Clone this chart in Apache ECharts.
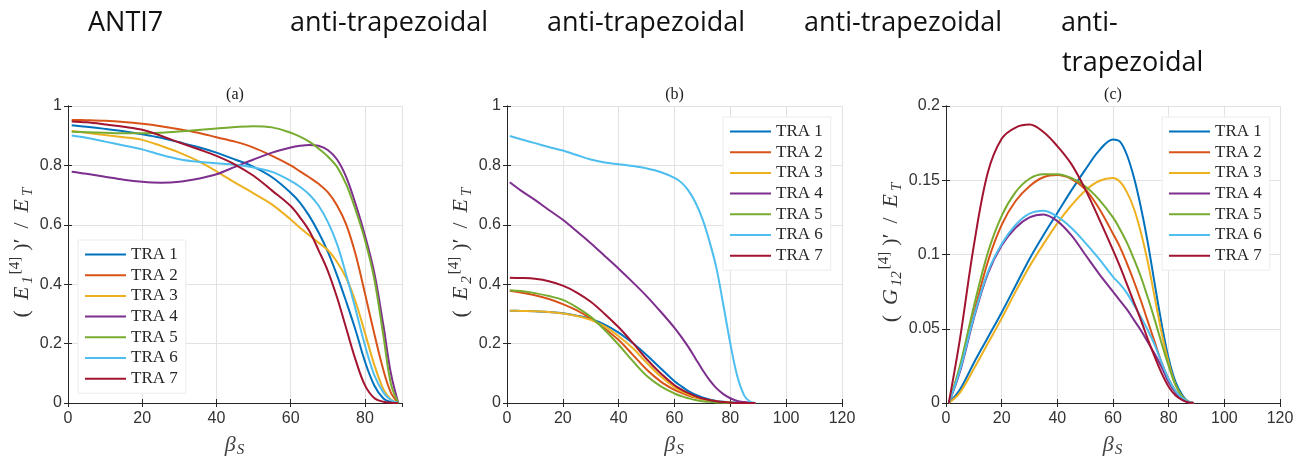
<!DOCTYPE html>
<html>
<head>
<meta charset="utf-8">
<script src="https://cdn.jsdelivr.net/npm/echarts@6/dist/echarts.min.js"></script>
<style>
html, body { margin: 0; padding: 0; background: #fff; }
#chart { width: 1309px; height: 459px; }
</style>
</head>
<body>
<div id="chart"></div>
<script>
// beta_S sample points (shared by all three panels)
const betaS = [1, 5, 10, 15, 20, 25, 30, 35, 40, 45, 50, 55, 60, 62.5, 65, 67.5, 70, 72.5, 75, 77.5, 80, 82.5, 85, 87, 89];

const traNames = ['TRA 1', 'TRA 2', 'TRA 3', 'TRA 4', 'TRA 5', 'TRA 6', 'TRA 7'];
const traColors = ['#0072BD', '#D95319', '#EDB120', '#7E2F8E', '#77AC30', '#4DBEEE', '#A2142F'];

// (a) E1
const e1Tra1 = [0.935, 0.930, 0.923, 0.915, 0.905, 0.893, 0.878, 0.862, 0.843, 0.820, 0.795, 0.760, 0.708, 0.675, 0.630, 0.575, 0.510, 0.430, 0.340, 0.245, 0.140, 0.060, 0.015, 0.003, 0];
const e1Tra2 = [0.953, 0.952, 0.950, 0.946, 0.940, 0.932, 0.922, 0.910, 0.895, 0.880, 0.860, 0.832, 0.800, 0.780, 0.760, 0.738, 0.710, 0.665, 0.600, 0.500, 0.370, 0.235, 0.110, 0.035, 0];
const e1Tra3 = [0.916, 0.910, 0.902, 0.895, 0.886, 0.866, 0.843, 0.815, 0.780, 0.742, 0.706, 0.668, 0.618, 0.590, 0.565, 0.540, 0.515, 0.475, 0.420, 0.340, 0.237, 0.130, 0.046, 0.012, 0];
const e1Tra4 = [0.779, 0.772, 0.762, 0.752, 0.745, 0.742, 0.745, 0.755, 0.770, 0.795, 0.820, 0.843, 0.860, 0.866, 0.869, 0.866, 0.852, 0.820, 0.760, 0.670, 0.565, 0.440, 0.260, 0.100, 0];
const e1Tra5 = [0.913, 0.912, 0.910, 0.908, 0.908, 0.910, 0.914, 0.919, 0.924, 0.929, 0.932, 0.928, 0.910, 0.897, 0.880, 0.857, 0.830, 0.795, 0.735, 0.650, 0.550, 0.420, 0.225, 0.065, 0];
const e1Tra6 = [0.901, 0.893, 0.880, 0.867, 0.854, 0.836, 0.821, 0.812, 0.807, 0.802, 0.793, 0.778, 0.748, 0.728, 0.702, 0.665, 0.610, 0.535, 0.430, 0.315, 0.195, 0.095, 0.035, 0.010, 0];
const e1Tra7 = [0.948, 0.945, 0.938, 0.930, 0.920, 0.900, 0.877, 0.855, 0.832, 0.803, 0.765, 0.715, 0.663, 0.625, 0.580, 0.515, 0.445, 0.355, 0.250, 0.145, 0.060, 0.017, 0.004, 0.001, 0];

// (b) E2
const e2Tra1 = [0.311, 0.310, 0.309, 0.306, 0.302, 0.294, 0.283, 0.264, 0.237, 0.202, 0.162, 0.117, 0.073, 0.056, 0.040, 0.028, 0.019, 0.012, 0.007, 0.004, 0.002, 0.001, 0, 0, 0];
const e2Tra2 = [0.378, 0.372, 0.363, 0.350, 0.333, 0.312, 0.285, 0.251, 0.212, 0.163, 0.113, 0.073, 0.044, 0.034, 0.025, 0.018, 0.013, 0.009, 0.005, 0.003, 0.001, 0, 0, 0, 0];
const e2Tra3 = [0.311, 0.310, 0.309, 0.306, 0.301, 0.293, 0.280, 0.258, 0.225, 0.185, 0.136, 0.090, 0.053, 0.040, 0.029, 0.020, 0.013, 0.009, 0.005, 0.003, 0.001, 0, 0, 0, 0];
const e2Tra4 = [0.743, 0.715, 0.684, 0.650, 0.617, 0.578, 0.538, 0.495, 0.452, 0.407, 0.360, 0.308, 0.253, 0.222, 0.188, 0.150, 0.112, 0.078, 0.050, 0.030, 0.016, 0.007, 0.003, 0.001, 0];
const e2Tra5 = [0.380, 0.377, 0.370, 0.360, 0.347, 0.322, 0.290, 0.246, 0.196, 0.142, 0.092, 0.057, 0.032, 0.023, 0.016, 0.010, 0.006, 0.004, 0.002, 0.001, 0, 0, 0, 0, 0];
const e2Tra6 = [0.899, 0.888, 0.875, 0.862, 0.850, 0.835, 0.820, 0.810, 0.804, 0.798, 0.790, 0.778, 0.758, 0.742, 0.715, 0.675, 0.620, 0.545, 0.455, 0.330, 0.200, 0.090, 0.025, 0.005, 0];
const e2Tra7 = [0.422, 0.421, 0.418, 0.410, 0.395, 0.372, 0.341, 0.300, 0.255, 0.203, 0.148, 0.100, 0.060, 0.045, 0.033, 0.023, 0.015, 0.010, 0.006, 0.003, 0.001, 0, 0, 0, 0];

// (c) G12
const g12Tra1 = [0, 0.009, 0.027, 0.044, 0.061, 0.079, 0.097, 0.113, 0.128, 0.143, 0.157, 0.170, 0.1775, 0.176, 0.167, 0.152, 0.132, 0.108, 0.080, 0.053, 0.030, 0.014, 0.005, 0.001, 0];
const g12Tra2 = [0, 0.023, 0.060, 0.095, 0.120, 0.136, 0.146, 0.152, 0.1535, 0.151, 0.144, 0.131, 0.114, 0.105, 0.094, 0.082, 0.069, 0.055, 0.041, 0.027, 0.016, 0.008, 0.003, 0.001, 0];
const g12Tra3 = [0, 0.007, 0.023, 0.040, 0.057, 0.075, 0.092, 0.107, 0.121, 0.133, 0.143, 0.1495, 0.1515, 0.149, 0.142, 0.131, 0.115, 0.095, 0.071, 0.047, 0.027, 0.012, 0.004, 0.001, 0];
const g12Tra4 = [0, 0.021, 0.057, 0.087, 0.106, 0.118, 0.125, 0.127, 0.1225, 0.113, 0.100, 0.087, 0.075, 0.069, 0.063, 0.056, 0.049, 0.041, 0.033, 0.024, 0.014, 0.007, 0.002, 0.0005, 0];
const g12Tra5 = [0, 0.025, 0.065, 0.101, 0.126, 0.142, 0.151, 0.154, 0.154, 0.1515, 0.146, 0.137, 0.125, 0.117, 0.108, 0.097, 0.085, 0.071, 0.056, 0.040, 0.025, 0.012, 0.004, 0.001, 0];
const g12Tra6 = [0, 0.022, 0.058, 0.088, 0.107, 0.120, 0.1275, 0.1295, 0.1255, 0.118, 0.108, 0.097, 0.085, 0.080, 0.074, 0.066, 0.058, 0.049, 0.039, 0.027, 0.016, 0.008, 0.003, 0.001, 0];
const g12Tra7 = [0, 0.043, 0.106, 0.155, 0.178, 0.1855, 0.1875, 0.1825, 0.173, 0.161, 0.144, 0.124, 0.103, 0.092, 0.080, 0.068, 0.056, 0.043, 0.031, 0.020, 0.011, 0.005, 0.002, 0.0005, 0];

// header texts above the figure
const headerTexts = ['ANTI7', 'anti-trapezoidal', 'anti-trapezoidal', 'anti-trapezoidal', 'anti-', 'trapezoidal'];

const axisColor = '#262626';
const gridColor = '#e2e2e2';
const serif = '"Liberation Serif", "Times New Roman", serif';
const sans = '"Liberation Sans", Arial, sans-serif';

const panels = [
    { left: 68, width: 334, xMax: 90, yMax: 1, yInt: 0.2, title: '(a)',
      yName: '{n|(}{i|E}{sb|1}{sp|[4]}{n|)′}{n|/}{i|E}{sb|T}',
      data: [e1Tra1, e1Tra2, e1Tra3, e1Tra4, e1Tra5, e1Tra6, e1Tra7], legend: [78, 240] },
    { left: 507, width: 335, xMax: 120, yMax: 1, yInt: 0.2, title: '(b)',
      yName: '{n|(}{i|E}{sb|2}{sp|[4]}{n|)′}{n|/}{i|E}{sb|T}',
      data: [e2Tra1, e2Tra2, e2Tra3, e2Tra4, e2Tra5, e2Tra6, e2Tra7], legend: [723, 117] },
    { left: 946, width: 334, xMax: 120, yMax: 0.2, yInt: 0.05, title: '(c)',
      yName: '{n|(}{i|G}{sb|12}{sp|[4]}{n|)′}{n|/}{i|E}{sb|T}',
      data: [g12Tra1, g12Tra2, g12Tra3, g12Tra4, g12Tra5, g12Tra6, g12Tra7], legend: [1162, 117] }
];

const nameRich = {
    n: { fontFamily: serif, fontSize: 22, lineHeight: 28, color: '#333', padding: [0, 5] },
    i: { fontFamily: serif, fontStyle: 'italic', fontSize: 22, lineHeight: 28, color: '#333', padding: [0, 2, 0, 5] },
    b: { fontFamily: serif, fontStyle: 'italic', fontSize: 22, lineHeight: 26, color: '#444' },
    sb: { fontFamily: serif, fontStyle: 'italic', fontSize: 15, lineHeight: 15, color: '#333', verticalAlign: 'bottom', padding: [0, 1] },
    sp: { fontFamily: serif, fontSize: 15, lineHeight: 15, color: '#333', verticalAlign: 'top', padding: [0, 1] }
};

const grid = [], xAxis = [], yAxis = [], series = [], legend = [], graphic = [];

panels.forEach((p, k) => {
    grid.push({ left: p.left, top: 106, width: p.width, height: 297, outerBoundsMode: 'none', containLabel: false });

    const xBase = {
        type: 'value', gridIndex: k, min: 0, max: p.xMax, interval: 20,
        axisLine: { show: true, lineStyle: { color: axisColor, width: 1 } },
        axisTick: { show: true, inside: true, length: 4, lineStyle: { color: axisColor } }
    };
    xAxis.push(Object.assign({}, xBase, {
        position: 'bottom',
        name: '{b|β}{sb|S}', nameLocation: 'middle', nameGap: 29,
        nameTextStyle: { rich: nameRich },
        axisLabel: { fontFamily: sans, fontSize: 16, color: '#333', margin: 8, showMaxLabel: p.xMax !== 90 },
        splitLine: { show: true, lineStyle: { color: gridColor, width: 1 } }
    }));
    xAxis.push(Object.assign({}, xBase, {
        position: 'top', axisLabel: { show: false }, splitLine: { show: false }
    }));

    const yBase = {
        type: 'value', gridIndex: k, min: 0, max: p.yMax, interval: p.yInt,
        axisLine: { show: true, lineStyle: { color: axisColor, width: 1 } },
        axisTick: { show: true, inside: true, length: 4, lineStyle: { color: axisColor } }
    };
    yAxis.push(Object.assign({}, yBase, {
        position: 'left',
        name: p.yName, nameLocation: 'middle', nameRotate: 90, nameGap: 31,
        nameTextStyle: { rich: nameRich },
        axisLabel: { fontFamily: sans, fontSize: 16, color: '#333', margin: 6 },
        splitLine: { show: true, lineStyle: { color: gridColor, width: 1 } }
    }));
    yAxis.push(Object.assign({}, yBase, {
        position: 'right', axisLabel: { show: false }, splitLine: { show: false }
    }));

    p.data.forEach((vals, j) => {
        series.push({
            name: traNames[j],
            type: 'line',
            xAxisIndex: 2 * k,
            yAxisIndex: 2 * k,
            data: betaS.map((b, i) => [b, vals[i]]),
            symbol: 'none',
            smooth: 0.35,
            clip: true,
            color: traColors[j],
            lineStyle: { color: traColors[j], width: 2 },
            z: 3
        });
    });

    legend.push({
        data: traNames,
        orient: 'vertical',
        left: p.legend[0],
        top: p.legend[1],
        icon: 'rect',
        itemWidth: 41,
        itemHeight: 2,
        itemGap: 3.7,
        padding: [6, 8, 6, 7],
        backgroundColor: '#fff',
        borderColor: '#ececec',
        borderWidth: 1,
        selectedMode: false,
        textStyle: { fontFamily: serif, fontSize: 17, lineHeight: 17, color: '#262626' }
    });

    graphic.push({
        type: 'text', x: p.left + p.width / 2, y: 95,
        style: { text: p.title, font: '16px ' + serif, fill: '#1a1a1a', align: 'center', verticalAlign: 'middle' }
    });
});

// header row
const headerPos = [[88, 23], [290, 23], [547, 23], [804, 23], [1061, 23], [1062, 63]];
headerTexts.forEach((t, i) => {
    graphic.push({
        type: 'text', x: headerPos[i][0], y: headerPos[i][1],
        style: { text: t, font: '27px "Open Sans", sans-serif', fill: '#111', align: 'left', verticalAlign: 'middle' }
    });
});

const chart = echarts.init(document.getElementById('chart'), null, { renderer: 'canvas' });
chart.setOption({
    backgroundColor: '#fff',
    animation: false,
    grid: grid,
    xAxis: xAxis,
    yAxis: yAxis,
    legend: legend,
    series: series,
    graphic: graphic
});
</script>
</body>
</html>
